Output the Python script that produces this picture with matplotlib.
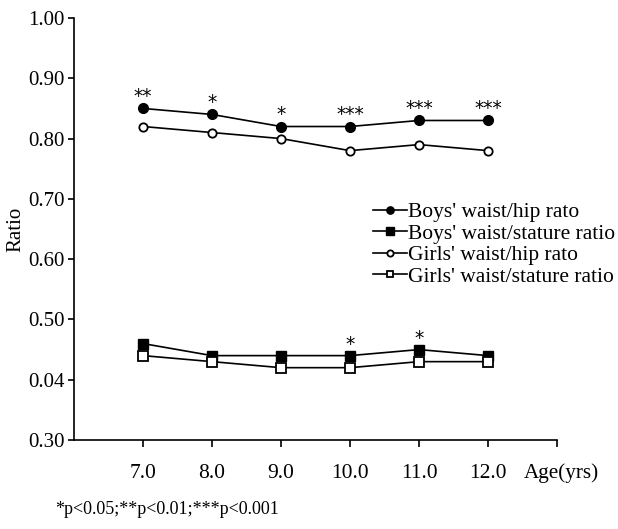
import matplotlib
matplotlib.use("Agg")
import matplotlib.pyplot as plt

plt.rcParams['font.family'] = ['Liberation Serif', 'DejaVu Serif']

ages = [7.0, 8.0, 9.0, 10.0, 11.0, 12.0]
boys_whr = [0.85, 0.84, 0.82, 0.82, 0.83, 0.83]
girls_whr = [0.82, 0.81, 0.80, 0.78, 0.79, 0.78]
boys_wsr = [0.46, 0.44, 0.44, 0.44, 0.45, 0.44]
girls_wsr = [0.44, 0.43, 0.42, 0.42, 0.43, 0.43]
boys_whr_sig = ['**', '*', '*', '***', '***', '***']
boys_wsr_sig = ['', '', '', '*', '*', '']

y_ticks = [0.30, 0.40, 0.50, 0.60, 0.70, 0.80, 0.90, 1.00]
y_labels = ['0.30', '0.04', '0.50', '0.60', '0.70', '0.80', '0.90', '1.00']
x_ticks = [7, 8, 9, 10, 11, 12, 13]
x_labels = ['7.0', '8.0', '9.0', '10.0', '11.0', '12.0', '']

fig = plt.figure(figsize=(6.18, 5.29), dpi=100)
ax = fig.add_axes([0.1197, 0.1682, 0.7816, 0.7978])

kw = dict(color='black', lw=1.2)
ax.plot(ages, boys_whr, marker='o', ms=7, mfc='black', mec='black',
        label="Boys' waist/hip rato", **kw)
ax.plot(ages, boys_wsr, marker='s', ms=7, mfc='black', mec='black',
        label="Boys' waist/stature ratio", **kw)
ax.plot(ages, girls_whr, marker='o', ms=6, mfc='white', mec='black', mew=1.3,
        label="Girls' waist/hip rato", **kw)
ax.plot(ages, girls_wsr, marker='s', ms=6.5, mfc='white', mec='black', mew=1.3,
        label="Girls' waist/stature ratio", **kw)

# significance stars
for x, y, s in zip(ages, boys_whr, boys_whr_sig):
    if s:
        ax.annotate(s, (x, y), xytext=(0, 1.5), textcoords='offset points',
                    ha='center', va='bottom', fontsize=13.5, family='DejaVu Sans')
for x, y, s in zip(ages, boys_wsr, boys_wsr_sig):
    if s:
        ax.annotate(s, (x, y), xytext=(0, 1.5), textcoords='offset points',
                    ha='center', va='bottom', fontsize=13.5, family='DejaVu Sans')

ax.set_xlim(6, 13)
ax.set_ylim(0.30, 1.00)
ax.set_xticks(x_ticks)
ax.set_xticklabels(x_labels)
ax.set_yticks(y_ticks)
ax.set_yticklabels(y_labels)
ax.tick_params(axis='x', direction='out', length=5, width=1.2, pad=12, labelsize=15.5)
ax.tick_params(axis='y', direction='out', length=4, width=1.2, pad=3, labelsize=15)
for side in ['top', 'right']:
    ax.spines[side].set_visible(False)
for side in ['left', 'bottom']:
    ax.spines[side].set_linewidth(1.2)

ax.set_ylabel('Ratio', fontsize=15, labelpad=2)

ax.legend(loc='upper left', bbox_to_anchor=(0.603, 0.618),
          bbox_transform=fig.transFigure, frameon=False, fontsize=15.5,
          handlelength=1.6, handletextpad=0.05, labelspacing=0.07,
          markerscale=0.75, borderpad=0, borderaxespad=0)

fig.text(0.848, 0.106, 'Age(yrs)', fontsize=15.2, va='center', ha='left')
fig.text(0.089, 0.036, '*p<0.05;**p<0.01;***p<0.001', fontsize=13,
         va='center', ha='left')

fig.savefig('out.png', dpi=100)
